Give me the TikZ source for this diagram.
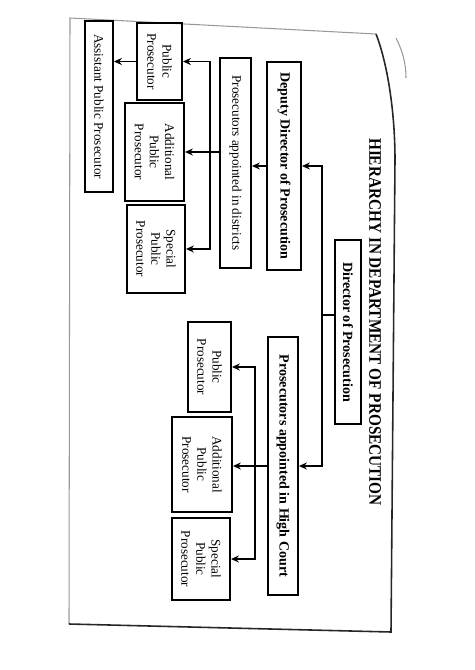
\documentclass[tikz,border=0pt]{standalone}
\usepackage{fontspec}
\usepackage{graphicx}
\setmainfont{Liberation Serif}
\usetikzlibrary{arrows.meta, positioning, calc}

\begin{document}
\begin{tikzpicture}[
    x=0.02cm, y=-0.02cm,
    >={Stealth[length=4.5pt, width=4pt]},
    font=\fontsize{7.5}{8.6}\selectfont,
    post/.style={draw, line width=1.1pt, rectangle, rotate=-90,
                 inner sep=1pt, align=center},
    postbold/.style={post, font=\fontsize{8}{9}\selectfont\bfseries},
    flowarrow/.style={->, line width=0.8pt},
    trunk/.style={line width=0.8pt},
    frameline/.style={line width=0.9pt, black!85},
    faintline/.style={line width=0.6pt, black!40},
]
\useasboundingbox (0,0) rectangle (474,670);

% ============================================================
% Frame of the page
% ============================================================
\draw[faintline] (69,624) -- (70,18) -- (376,34);
\draw[frameline] (376,34) .. controls (387,62) and (395,110) .. (395,160)
    -- (391,632) -- (69,624);
\draw[faintline] (396,38) .. controls (402,50) and (406,62) .. (406,78);

% ============================================================
% Title
% ============================================================
\node[rotate=-90, font=\fontsize{10}{12}\selectfont\bfseries] (title)
    at (375,322) {\scalebox{0.87}[1]{HIERARCHY IN DEPARTMENT OF PROSECUTION}};

% ============================================================
% Posts (explicit coordinates, text rotated)
% ============================================================
\node[postbold, minimum width=3.68cm, minimum height=0.52cm] (dir)
    at (348,332) {Director of Prosecution};

% district side
\node[postbold, minimum width=4.16cm, minimum height=0.68cm] (dep)
    at (284,166) {Deputy Director of Prosecution};
\node[post, minimum width=4.2cm, minimum height=0.62cm] (dis)
    at (235.5,163) {Prosecutors appointed in districts};
\node[post, minimum width=1.54cm, minimum height=0.9cm] (pp1)
    at (159.5,61.5) {Public\\Prosecutor};
\node[post, minimum width=1.96cm, minimum height=1.18cm] (app1)
    at (154.5,152) {Additional\\Public\\Prosecutor};
\node[post, minimum width=1.76cm, minimum height=1.16cm] (spp1)
    at (156,249) {Special\\Public\\Prosecutor};
\node[post, minimum width=3.42cm, minimum height=0.56cm] (asst)
    at (99,106.5) {Assistant Public Prosecutor};

% high court side
\node[postbold, minimum width=5.16cm, minimum height=0.6cm] (hc)
    at (283,466) {Prosecutors appointed in High Court};
\node[post, minimum width=1.8cm, minimum height=0.86cm] (pp2)
    at (209.5,367) {Public\\Prosecutor};
\node[post, minimum width=1.9cm, minimum height=1.2cm] (app2)
    at (202,464.5) {Additional\\Public\\Prosecutor};
\node[post, minimum width=1.64cm, minimum height=1.16cm] (spp2)
    at (201,559) {Special\\Public\\Prosecutor};

% ============================================================
% Connectors
% ============================================================
% Director -> both branches
\coordinate (jA) at (322,315);
\draw[trunk] (dir.south |- jA) -- (jA);
\draw[flowarrow] (jA) |- (dep.north);
\draw[flowarrow] (jA) |- (hc.north);

% Deputy Director -> districts
\draw[flowarrow] (dep.south) -- (dep.south -| dis.north);

% districts -> its three posts
\coordinate (jB) at (210,152);
\draw[flowarrow] (dis.south |- app1.north) -- (app1.north);
\draw[flowarrow] (jB) |- (pp1.north);
\draw[flowarrow] (jB) |- (spp1.north);

% Public Prosecutor -> Assistant
\draw[flowarrow] (pp1.south) -- (pp1.south -| asst.north);

% High Court -> its three posts
\coordinate (jC) at (255,466);
\draw[flowarrow] (hc.south) -- (hc.south -| app2.north);
\draw[flowarrow] (jC) |- (pp2.north);
\draw[flowarrow] (jC) |- (spp2.north);

\end{tikzpicture}
\end{document}
